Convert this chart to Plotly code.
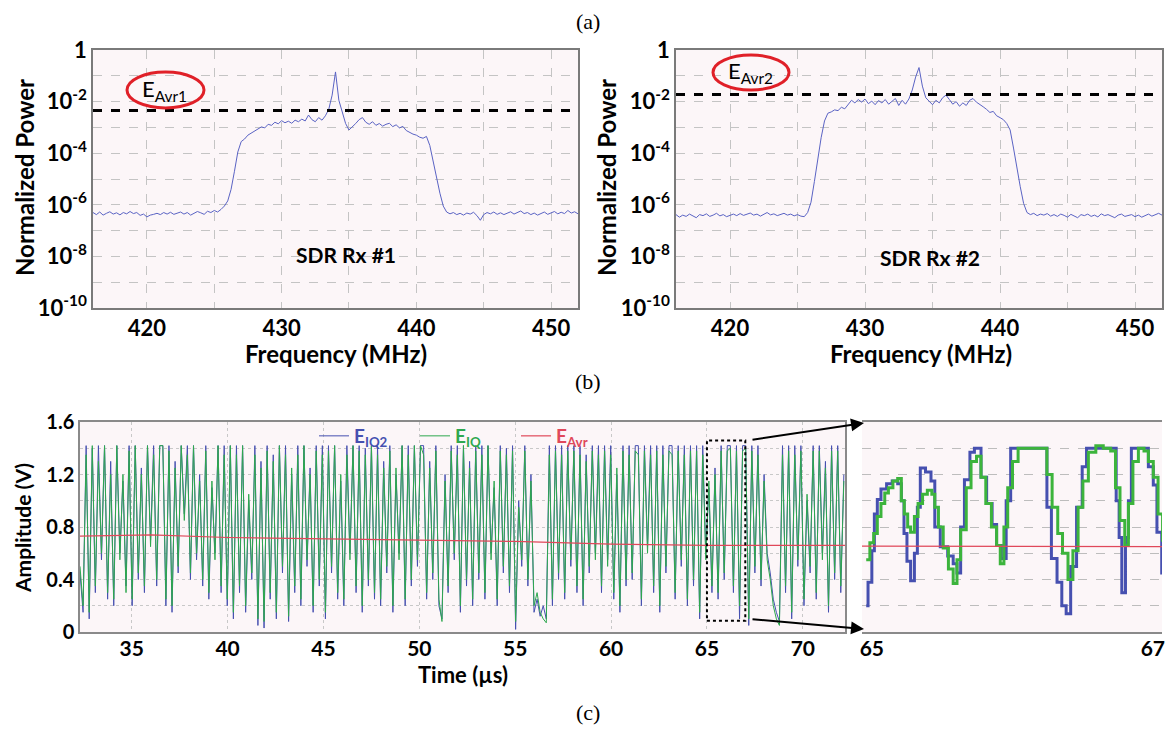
import numpy as np
import plotly.graph_objects as go

# the page body adds an 8px offset, so the figure is drawn 8px smaller and all
# pixel positions below are given in screen coordinates and shifted by 8
OFF = 8
W, H = 1176 - OFF, 732 - OFF

# ---------------- data: panel (a)/(b) spectra (log10 of normalized power) ----------------
freq_mhz = np.linspace(416, 452, 145)
rx1_log_power = [
    -6.30, -6.38, -6.28, -6.40, -6.33, -6.27, -6.36, -6.31, -6.39, -6.30,
    -6.35, -6.26, -6.34, -6.30, -6.41, -6.36, -6.47, -6.40, -6.37, -6.33,
    -6.38, -6.30, -6.36, -6.29, -6.37, -6.32, -6.28, -6.36, -6.30, -6.40,
    -6.33, -6.26, -6.31, -6.37, -6.25, -6.30, -6.22, -6.28, -6.18, -6.05,
    -5.85, -5.40, -4.70, -3.95, -3.55, -3.45, -3.30, -3.22, -3.12, -3.05,
    -2.98, -3.02, -2.88, -2.92, -2.80, -2.86, -2.74, -2.82, -2.76, -2.84,
    -2.72, -2.78, -2.68, -2.75, -2.52, -2.70, -2.78, -2.62, -2.72, -2.55,
    -2.30, -1.75, -0.85, -1.95, -2.45, -2.85, -3.10, -2.98, -2.85, -2.70,
    -2.62, -2.80, -2.88, -2.78, -2.92, -2.85, -2.95, -2.88, -2.84, -2.97,
    -2.90, -3.02, -2.96, -3.12, -3.20, -3.26, -3.30, -3.38, -3.42, -3.35,
    -3.70, -4.30, -5.00, -5.55, -6.05, -6.28, -6.35, -6.30, -6.38, -6.33,
    -6.40, -6.32, -6.36, -6.29, -6.42, -6.60, -6.38, -6.30, -6.35, -6.28,
    -6.37, -6.31, -6.38, -6.33, -6.27, -6.36, -6.30, -6.24, -6.34, -6.30,
    -6.38, -6.32, -6.40, -6.33, -6.28, -6.37, -6.31, -6.26, -6.35, -6.29,
    -6.34, -6.22, -6.32, -6.27, -6.35,
]
rx2_log_power = [
    -6.38, -6.48, -6.40, -6.45, -6.36, -6.44, -6.50, -6.38, -6.42, -6.35,
    -6.45, -6.40, -6.33, -6.43, -6.38, -6.46, -6.40, -6.36, -6.42, -6.34,
    -6.41, -6.37, -6.32, -6.40, -6.36, -6.44, -6.38, -6.30, -6.39, -6.35,
    -6.42, -6.37, -6.33, -6.40, -6.36, -6.43, -6.38, -6.44, -6.46, -6.30,
    -5.90, -5.10, -4.20, -3.40, -2.75, -2.45, -2.40, -2.32, -2.35, -2.22,
    -2.28, -2.10, -1.95, -2.05, -1.92, -2.02, -1.90, -2.08, -1.98, -2.12,
    -1.96, -2.05, -1.92, -2.10, -2.00, -1.88, -2.15, -1.95, -2.10, -1.90,
    -1.55, -1.05, -0.68, -1.40, -1.85, -2.00, -2.12, -1.95, -2.05, -1.85,
    -1.75, -1.92, -2.10, -2.00, -2.18, -2.05, -2.15, -1.95, -1.88, -2.02,
    -2.10, -2.20, -2.30, -2.42, -2.38, -2.55, -2.62, -2.70, -2.85, -3.10,
    -3.80, -4.60, -5.30, -5.95, -6.30, -6.38, -6.33, -6.42, -6.36, -6.40,
    -6.34, -6.44, -6.38, -6.45, -6.36, -6.41, -6.48, -6.37, -6.43, -6.50,
    -6.38, -6.42, -6.36, -6.45, -6.40, -6.47, -6.35, -6.42, -6.38, -6.44,
    -6.50, -6.40, -6.36, -6.45, -6.41, -6.38, -6.46, -6.40, -6.48, -6.42,
    -6.36, -6.44, -6.39, -6.33, -6.40,
]
e_avr1_level = 0.0045
e_avr2_level = 0.019
freq_ticks = [420, 430, 440, 450]
freq_minor_ticks = [425, 435, 445]
power_major_exps = [0, -2, -4, -6, -8, -10]
power_minor_exps = [-1, -3, -5, -7, -9]

# ---------------- data: panel (c) time signals ----------------
time_us = 32.3 + 0.16 * np.arange(250)
e_iq2 = [
    0.45, 0.15, 1.42, 0.10, 1.40, 0.30, 1.42, 0.55, 1.42, 0.25,
    1.30, 0.20, 1.42, 0.60, 1.15, 0.35, 1.42, 0.20, 1.42, 0.40,
    1.25, 0.30, 1.42, 0.70, 1.42, 0.35, 1.42, 1.42, 0.20, 1.42,
    0.15, 1.30, 0.45, 1.42, 0.90, 1.42, 0.40, 1.42, 0.55, 1.20,
    0.35, 1.42, 0.25, 1.10, 0.60, 1.42, 0.30, 1.42, 0.20, 1.42,
    0.10, 1.42, 0.30, 1.42, 0.15, 1.00, 0.40, 1.42, 0.05, 1.30,
    0.03, 1.42, 0.25, 1.35, 0.10, 1.42, 0.45, 1.42, 0.08, 1.20,
    0.30, 1.42, 0.20, 1.42, 0.50, 1.25, 0.15, 1.42, 0.35, 1.42,
    0.10, 1.42, 0.45, 1.42, 0.25, 1.15, 0.20, 1.42, 0.60, 1.42,
    0.30, 1.42, 0.15, 1.40, 0.35, 1.42, 0.25, 1.42, 0.20, 1.30,
    0.45, 1.42, 0.15, 1.20, 0.60, 1.42, 0.20, 1.42, 0.35, 1.42,
    0.50, 1.42, 1.42, 0.25, 1.30, 0.40, 1.42, 0.20, 0.10, 1.20,
    0.30, 1.42, 0.55, 1.42, 0.15, 1.42, 0.35, 1.30, 0.20, 1.42,
    0.40, 1.42, 0.25, 1.42, 0.60, 1.10, 0.20, 1.42, 0.45, 1.40,
    0.30, 1.42, 0.02, 1.00, 0.50, 1.42, 0.35, 1.20, 0.15, 0.25,
    0.12, 0.20, 0.10, 1.42, 0.20, 1.42, 0.40, 1.42, 0.25, 1.42,
    0.50, 1.42, 0.30, 1.42, 0.20, 1.35, 0.45, 1.42, 0.60, 1.42,
    0.30, 1.42, 0.55, 1.42, 0.25, 1.20, 0.15, 1.42, 0.35, 1.42,
    0.40, 1.42, 1.42, 0.20, 1.42, 0.65, 1.42, 0.30, 1.42, 0.15,
    1.42, 0.45, 1.42, 1.42, 0.25, 1.42, 0.50, 1.42, 0.20, 1.42,
    0.35, 1.42, 0.10, 1.42, 0.60, 1.10, 0.30, 1.25, 0.25, 1.42,
    0.40, 1.42, 1.42, 0.30, 1.42, 0.10, 1.42, 1.42, 0.05, 1.42,
    0.45, 1.42, 0.35, 1.20, 0.60, 0.45, 0.25, 0.15, 0.08, 1.42,
    0.30, 1.42, 0.10, 1.42, 0.50, 1.42, 0.20, 1.00, 0.45, 1.42,
    0.25, 1.42, 0.60, 1.30, 0.15, 1.42, 0.40, 1.42, 0.30, 1.20,
]
e_iq = [
    0.50, 0.20, 1.35, 0.15, 1.42, 0.35, 1.30, 0.60, 1.42, 0.30,
    1.20, 0.25, 1.42, 0.55, 1.20, 0.30, 1.38, 0.25, 1.42, 0.45,
    1.20, 0.35, 1.42, 0.65, 1.35, 0.40, 1.42, 1.42, 0.25, 1.38,
    0.20, 1.25, 0.50, 1.42, 0.85, 1.35, 0.45, 1.42, 0.60, 1.15,
    0.40, 1.38, 0.30, 1.15, 0.55, 1.42, 0.35, 1.35, 0.25, 1.42,
    0.15, 1.35, 0.35, 1.42, 0.20, 1.05, 0.45, 1.35, 0.10, 1.25,
    0.08, 1.38, 0.30, 1.30, 0.15, 1.42, 0.50, 1.35, 0.12, 1.25,
    0.35, 1.35, 0.25, 1.42, 0.55, 1.20, 0.20, 1.38, 0.40, 1.35,
    0.15, 1.38, 0.50, 1.42, 0.30, 1.20, 0.25, 1.35, 0.55, 1.42,
    0.35, 1.38, 0.20, 1.35, 0.40, 1.42, 0.30, 1.35, 0.25, 1.25,
    0.50, 1.38, 0.20, 1.25, 0.55, 1.42, 0.25, 1.35, 0.40, 1.42,
    0.55, 1.42, 1.35, 0.30, 1.25, 0.45, 1.38, 0.25, 0.08, 1.15,
    0.35, 1.38, 0.60, 1.35, 0.20, 1.42, 0.40, 1.25, 0.25, 1.38,
    0.45, 1.35, 0.30, 1.42, 0.55, 1.15, 0.25, 1.38, 0.50, 1.35,
    0.35, 1.38, 0.08, 0.95, 0.55, 1.38, 0.40, 1.15, 0.20, 0.30,
    0.15, 0.10, 0.07, 1.35, 0.25, 1.38, 0.45, 1.35, 0.30, 1.38,
    0.55, 1.38, 0.35, 1.35, 0.25, 1.30, 0.50, 1.38, 0.55, 1.35,
    0.35, 1.38, 0.50, 1.35, 0.30, 1.25, 0.20, 1.38, 0.40, 1.35,
    0.45, 1.38, 1.35, 0.25, 1.38, 0.60, 1.35, 0.35, 1.38, 0.20,
    1.35, 0.50, 1.38, 1.35, 0.30, 1.38, 0.55, 1.35, 0.25, 1.38,
    0.40, 1.38, 0.15, 1.35, 0.55, 1.15, 0.35, 1.20, 0.30, 1.38,
    0.45, 1.38, 1.40, 0.35, 1.38, 0.20, 1.38, 1.40, 0.10, 1.38,
    0.50, 1.35, 0.40, 1.15, 0.55, 0.40, 0.20, 0.10, 0.05, 1.35,
    0.35, 1.38, 0.15, 1.35, 0.55, 1.38, 0.25, 1.05, 0.50, 1.38,
    0.30, 1.38, 0.55, 1.25, 0.20, 1.38, 0.45, 1.38, 0.35, 1.15,
]
avr_time_us = [32.3, 36.0, 40.0, 45.0, 50.0, 55.0, 60.0, 65.0, 72.2]
e_avr = [0.73, 0.74, 0.72, 0.71, 0.70, 0.69, 0.67, 0.66, 0.66]

zoom_time_iq2 = [
    64.960, 64.973, 65.000, 65.018, 65.039, 65.065, 65.105, 65.145, 65.184, 65.210,
    65.229, 65.250, 65.276, 65.303, 65.324, 65.345, 65.382, 65.421, 65.448, 65.487,
    65.540, 65.579, 65.606, 65.632, 65.659, 65.698, 65.730, 65.777, 65.817, 65.856,
    65.888, 65.922, 65.956, 65.988, 66.212, 66.246, 66.278, 66.318, 66.352, 66.383,
    66.415, 66.457, 66.497, 66.528, 66.713, 66.739, 66.760, 66.779, 66.805, 66.826,
    66.847, 66.937, 66.968, 67.003, 67.029, 67.063, 67.090,
]
zoom_iq2 = [
    0.20, 0.38, 0.62, 0.90, 1.01, 1.09, 1.13, 1.15, 1.13, 1.00,
    0.75, 0.54, 0.39, 0.60, 0.95, 1.25, 1.22, 1.15, 0.80, 0.65,
    0.58, 0.52, 0.45, 0.80, 1.16, 1.37, 1.40, 1.18, 0.98, 0.82,
    0.66, 0.56, 1.00, 1.40, 1.40, 0.95, 0.56, 0.38, 0.20, 0.14,
    0.50, 0.95, 1.26, 1.40, 1.40, 1.00, 0.72, 0.30, 0.72, 1.00,
    1.40, 1.40, 1.26, 1.12, 0.76, 0.45, 0.10,
]
zoom_time_iq = [
    64.960, 64.986, 65.013, 65.039, 65.065, 65.092, 65.118, 65.150, 65.184, 65.210,
    65.231, 65.255, 65.276, 65.303, 65.329, 65.361, 65.395, 65.427, 65.448, 65.474,
    65.508, 65.545, 65.579, 65.606, 65.632, 65.672, 65.706, 65.745, 65.777, 65.811,
    65.851, 65.888, 65.914, 65.940, 65.967, 66.001, 66.041, 66.212, 66.246, 66.283,
    66.323, 66.357, 66.396, 66.431, 66.468, 66.502, 66.541, 66.594, 66.647, 66.700,
    66.734, 66.766, 66.800, 66.826, 66.858, 66.897, 66.937, 66.968, 67.003, 67.037,
    67.069, 67.095,
]
zoom_iq = [
    0.55, 0.68, 0.75, 0.88, 0.98, 1.06, 1.10, 1.15, 1.17, 1.00,
    0.90, 0.80, 0.76, 0.88, 0.98, 1.05, 1.08, 1.05, 0.95, 0.80,
    0.64, 0.48, 0.37, 0.55, 0.78, 1.10, 1.30, 1.34, 1.18, 0.98,
    0.80, 0.66, 0.52, 0.80, 1.10, 1.30, 1.40, 1.40, 1.20, 0.95,
    0.75, 0.60, 0.40, 0.62, 0.95, 1.15, 1.37, 1.42, 1.40, 1.38,
    1.10, 0.85, 0.66, 0.98, 1.30, 1.40, 1.38, 1.30, 1.18, 0.90,
    0.70, 0.52,
]
zoom_avr_time = [64.93, 67.07]
zoom_avr = [0.655, 0.65]
amp_ticks = [0, 0.4, 0.8, 1.2, 1.6]
amp_minor_ticks = [0.2, 0.6, 1.0, 1.4]
time_ticks = [35, 40, 45, 50, 55, 60, 65, 70]
zoom_time_ticks = [65, 67]

# ---------------- styling ----------------
BLUE_SPEC = "#5a63c4"
BLUE = "#4650b0"
GREEN = "#2ea84f"
RED = "#e0485a"
BG = "#fcf6f8"
FONT = "Lato, 'Open Sans', sans-serif"


def px_x(p):
    return (p - OFF) / W


def px_y(p):
    return 1 - (p - OFF) / H


fig = go.Figure()

# spectra
fig.add_trace(go.Scatter(x=freq_mhz, y=10 ** np.array(rx1_log_power), mode="lines",
                         line=dict(color=BLUE_SPEC, width=1), xaxis="x", yaxis="y", showlegend=False))
fig.add_trace(go.Scatter(x=[416, 452], y=[e_avr1_level, e_avr1_level], mode="lines",
                         line=dict(color="black", width=3, dash="dash"), xaxis="x", yaxis="y", showlegend=False))
fig.add_trace(go.Scatter(x=freq_mhz, y=10 ** np.array(rx2_log_power), mode="lines",
                         line=dict(color=BLUE_SPEC, width=1), xaxis="x2", yaxis="y2", showlegend=False))
fig.add_trace(go.Scatter(x=[416, 452], y=[e_avr2_level, e_avr2_level], mode="lines",
                         line=dict(color="black", width=3, dash="dash"), xaxis="x2", yaxis="y2", showlegend=False))

# time signals
fig.add_trace(go.Scatter(x=time_us, y=e_iq2, mode="lines", line=dict(color=BLUE, width=1),
                         name=f"<span style='color:{BLUE}'>E<sub>IQ2</sub></span>", xaxis="x3", yaxis="y3"))
fig.add_trace(go.Scatter(x=time_us, y=e_iq, mode="lines", line=dict(color=GREEN, width=1),
                         name=f"<span style='color:{GREEN}'>E<sub>IQ</sub></span>", xaxis="x3", yaxis="y3"))
fig.add_trace(go.Scatter(x=avr_time_us, y=e_avr, mode="lines", line=dict(color=RED, width=1.2),
                         name=f"<span style='color:{RED}'>E<sub>Avr</sub></span>", xaxis="x3", yaxis="y3"))

# zoomed signals
fig.add_trace(go.Scatter(x=zoom_time_iq2, y=zoom_iq2, mode="lines", line=dict(color=BLUE, width=3, shape="hv"),
                         xaxis="x4", yaxis="y4", showlegend=False))
fig.add_trace(go.Scatter(x=zoom_time_iq, y=zoom_iq, mode="lines", line=dict(color="#3cb43c", width=3, shape="hv"),
                         xaxis="x4", yaxis="y4", showlegend=False))
fig.add_trace(go.Scatter(x=zoom_avr_time, y=zoom_avr, mode="lines", line=dict(color=RED, width=1.2),
                         xaxis="x4", yaxis="y4", showlegend=False))

tickfont_a = dict(family=FONT, size=22, color="black", weight="bold")
grid_a = dict(showgrid=True, gridcolor="#c4c4c4", griddash="dash", gridwidth=1)
grid_c = dict(showgrid=True, gridcolor="#c8c8c8", griddash="dot", gridwidth=1)

spec_x = dict(range=[416, 452], tickmode="array", tickvals=freq_ticks,
              minor=dict(tickmode="array", tickvals=freq_minor_ticks, ticks="", **grid_a),
              showline=True, linecolor="#7a7a7a", linewidth=1.5, mirror=True, ticks="",
              tickfont=tickfont_a, zeroline=False, automargin=False, **grid_a)
spec_y = dict(type="log", range=[-10, 0], tickmode="array",
              tickvals=[10.0 ** e for e in power_major_exps],
              ticktext=["1" if e == 0 else "10<sup>%d</sup>" % e for e in power_major_exps],
              minor=dict(tickmode="array", tickvals=[10.0 ** e for e in power_minor_exps], ticks="", **grid_a),
              showline=True, linecolor="#7a7a7a", linewidth=1.5, mirror=True, ticks="",
              tickfont=tickfont_a, zeroline=False, automargin=False, **grid_a)

fig.update_layout(
    width=W, height=H, margin=dict(l=0, r=0, t=0, b=0, autoexpand=False),
    paper_bgcolor="white", plot_bgcolor=BG,
    font=dict(family=FONT, color="black"),
    xaxis=dict(domain=[px_x(93), px_x(578)], anchor="y", **spec_x),
    yaxis=dict(domain=[px_y(308), px_y(50)], anchor="x", **spec_y),
    xaxis2=dict(domain=[px_x(676), px_x(1162)], anchor="y2", **spec_x),
    yaxis2=dict(domain=[px_y(308), px_y(50)], anchor="x2", **spec_y),
    xaxis3=dict(domain=[px_x(80), px_x(845)], anchor="y3", range=[32.3, 72.2],
                tickmode="array", tickvals=time_ticks, **grid_c,
                showline=True, linecolor="#8a8a8a", linewidth=1.5, mirror=True, ticks="",
                tickfont=dict(family=FONT, size=21, color="black", weight="bold"), zeroline=False,
                ticklabelstandoff=-3, automargin=False),
    yaxis3=dict(domain=[px_y(632), px_y(422)], anchor="x3", range=[0, 1.6],
                tickmode="array", tickvals=amp_ticks, ticktext=["0", "0.4", "0.8", "1.2", "1.6"],
                minor=dict(tickmode="array", tickvals=amp_minor_ticks, ticks="", **grid_c),
                showline=True, linecolor="#8a8a8a", linewidth=1.5, mirror=True, ticks="",
                tickfont=dict(family=FONT, size=20, color="black", weight="bold"), zeroline=False,
                automargin=False, **grid_c),
    xaxis4=dict(domain=[px_x(862), px_x(1162)], anchor="y4", range=[64.93, 67.065],
                tickmode="array", tickvals=zoom_time_ticks, showgrid=False,
                showline=True, linecolor="#8a8a8a", linewidth=1.5, mirror=True, ticks="",
                tickfont=dict(family=FONT, size=21, color="black", weight="bold"), zeroline=False,
                ticklabelstandoff=-3, automargin=False),
    yaxis4=dict(domain=[px_y(632), px_y(422)], anchor="x4", range=[0, 1.6],
                tickmode="array", tickvals=[0.2, 0.4, 0.6, 0.8, 1.0, 1.2, 1.4], showticklabels=False,
                showgrid=True, gridcolor="#bdbdbd", griddash="dash", gridwidth=1,
                showline=False, ticks="", zeroline=False, automargin=False),
    legend=dict(orientation="h", x=px_x(314), y=px_y(436), xanchor="left", yanchor="middle",
                bgcolor="rgba(0,0,0,0)", font=dict(family=FONT, size=19, weight="bold"),
                itemwidth=30, entrywidth=56, entrywidthmode="pixels", traceorder="normal"),
)

annotations = []
for txt, yy in [("(a)", 21), ("(b)", 381), ("(c)", 712)]:
    annotations.append(dict(text=txt, x=px_x(588), y=px_y(yy), xref="paper", yref="paper",
                            xanchor="center", yanchor="middle", showarrow=False,
                            font=dict(family="Liberation Serif", size=22, color="black")))

texts = [
    dict(text="Normalized Power", x=24, y=178, textangle=-90, size=24),
    dict(text="Normalized Power", x=606, y=178, textangle=-90, size=24),
    dict(text="Frequency (MHz)", x=336, y=353, textangle=0, size=24),
    dict(text="Frequency (MHz)", x=921, y=353, textangle=0, size=24),
    dict(text="SDR Rx #1", x=346, y=255, textangle=0, size=21),
    dict(text="SDR Rx #2", x=930, y=257, textangle=0, size=21),
    dict(text="Amplitude (V)", x=22, y=528, textangle=-90, size=21),
    dict(text="Time (µs)", x=463, y=674, textangle=0, size=22),
]
for t in texts:
    annotations.append(dict(text=t["text"], x=px_x(t["x"]), y=px_y(t["y"]), xref="paper", yref="paper",
                            xanchor="center", yanchor="middle",
                            showarrow=False, textangle=t["textangle"],
                            font=dict(family=FONT, size=t["size"], color="black", weight="bold")))

annotations.append(dict(text="E<sub>Avr1</sub>", x=px_x(164), y=px_y(90), xref="paper", yref="paper",
                        xanchor="center", yanchor="middle",
                        showarrow=False, font=dict(family=FONT, size=22, color="black")))
annotations.append(dict(text="E<sub>Avr2</sub>", x=px_x(750), y=px_y(72), xref="paper", yref="paper",
                        xanchor="center", yanchor="middle",
                        showarrow=False, font=dict(family=FONT, size=22, color="black")))

# arrows from dotted box to zoomed panel
annotations.append(dict(x=px_x(864), y=px_y(423), xref="paper", yref="paper", text="",
                        showarrow=True, arrowhead=2, arrowsize=1.3, arrowwidth=2, arrowcolor="black",
                        ax=751 - 864, ay=440 - 423))
annotations.append(dict(x=px_x(864), y=px_y(629), xref="paper", yref="paper", text="",
                        showarrow=True, arrowhead=2, arrowsize=1.3, arrowwidth=2, arrowcolor="black",
                        ax=751 - 864, ay=619 - 629))

fig.update_layout(annotations=annotations)

shapes = [
    dict(type="circle", xref="paper", yref="paper", x0=px_x(127), x1=px_x(204), y0=px_y(108), y1=px_y(72),
         line=dict(color="#e02028", width=3)),
    dict(type="circle", xref="paper", yref="paper", x0=px_x(713), x1=px_x(789), y0=px_y(90), y1=px_y(55),
         line=dict(color="#e02028", width=3)),
    dict(type="rect", xref="x3", yref="y3", x0=65, x1=67, y0=0.085, y1=1.46,
         line=dict(color="black", width=2, dash="dot")),
]
fig.update_layout(shapes=shapes)

fig.write_html("out.html")
